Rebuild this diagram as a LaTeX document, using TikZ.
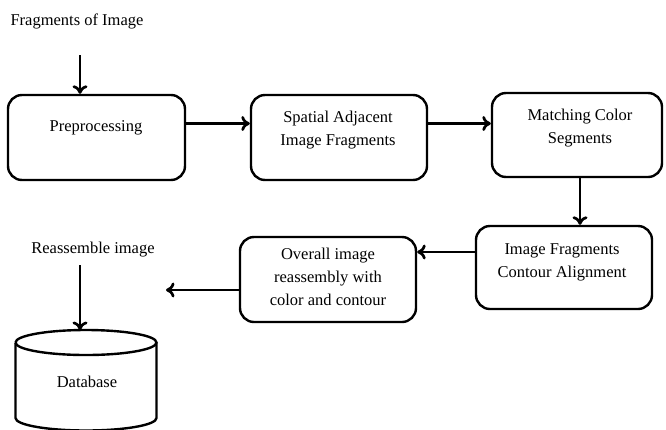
\documentclass[tikz,border=0pt]{standalone}
\usepackage{fontspec}
\setmainfont{Liberation Serif}
\usetikzlibrary{arrows.meta}
\begin{document}
\begin{tikzpicture}[x=1pt,y=-1pt,
  every node/.style={font=\fontsize{16.5}{23}\selectfont, inner sep=0pt},
  stepbox/.style={draw, line width=2.4pt, rounded corners=14pt},
  txt/.style={anchor=base, align=center},
  flow/.style={line width=2.7pt, -{To[length=8.5pt,width=15pt]}}]
\useasboundingbox (0,0) rectangle (666,429);

% process boxes
\node[stepbox, minimum width=177pt, minimum height=85pt] (pre) at (96.5,137.5) {};
\node[stepbox, minimum width=176pt, minimum height=85pt] (spa) at (339,137.5) {};
\node[stepbox, minimum width=170pt, minimum height=84pt] (mat) at (577,135) {};
\node[stepbox, minimum width=176pt, minimum height=83pt] (con) at (564,267.5) {};
\node[stepbox, minimum width=176pt, minimum height=85pt] (ove) at (328,279.5) {};

% box texts (base anchor sits on the last line)
\node[txt] (preT) at (96,131) {Preprocessing};
\node[txt] (spaT) at (338,145) {Spatial Adjacent\\Image Fragments};
\node[txt] (matT) at (580,143) {Matching Color\\Segments};
\node[txt] (conT) at (562,277) {Image Fragments\\Contour Alignment};
\node[txt] (oveT) at (328,305) {Overall image\\reassembly with\\color and contour};

% free labels
\node[txt] (frag) at (77,25) {Fragments of Image};
\node[txt] (reas) at (93,253) {Reassemble image};

% database cylinder
\coordinate (dbtop) at (86,330);
\draw[line width=2.4pt] (15.5,342.5) arc[start angle=180, end angle=-180, x radius=70.5pt, y radius=12.5pt];
\draw[line width=2.4pt] (15.5,342.5) -- (15.5,418)
  arc[start angle=180, end angle=360, x radius=70.5pt, y radius=12.5pt] -- (156.5,342.5);
\node[txt] (db) at (87,387) {Database};

% connectors
\coordinate (fragS) at (80,55);
\draw[flow] (fragS) -- (pre.north -| fragS);
\draw[flow] ([yshift=14pt]pre.east) -- ([yshift=14pt]pre.east -| spa.west);
\draw[flow] ([yshift=14pt]spa.east) -- ([yshift=14pt]spa.east -| mat.west);
\coordinate (matS) at (580,177);
\draw[flow] (matS) -- (matS |- con.north);
\draw[flow] ([yshift=15.5pt]con.west) -- ([yshift=15.5pt]con.west -| ove.east);
\coordinate (outE) at (166,290);
\draw[flow] (ove.west |- outE) -- (outE);
\coordinate (reasS) at (80,265);
\draw[flow] (reasS) -- (reasS |- dbtop);
\end{tikzpicture}
\end{document}
